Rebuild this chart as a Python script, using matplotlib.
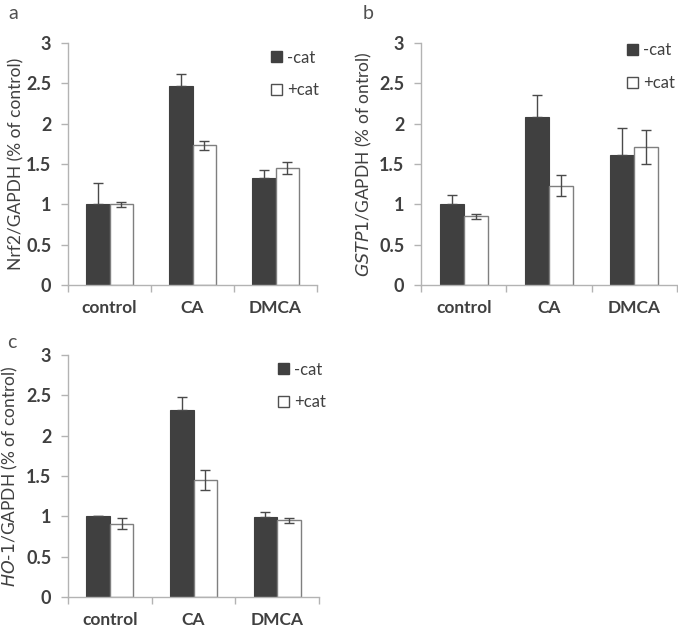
import numpy as np
import matplotlib
matplotlib.use("Agg")
import matplotlib.pyplot as plt
from matplotlib.patches import Patch

plt.rcParams["font.family"] = ["Lato", "DejaVu Sans"]

groups = ["control", "CA", "DMCA"]

# panel a: Nrf2
nrf2_minus = [1.00, 2.47, 1.32]
nrf2_minus_err = [0.27, 0.15, 0.11]
nrf2_plus = [1.00, 1.73, 1.45]
nrf2_plus_err = [0.03, 0.06, 0.07]

# panel b: GSTP1
gstp1_minus = [1.00, 2.08, 1.61]
gstp1_minus_err = [0.12, 0.27, 0.34]
gstp1_plus = [0.85, 1.23, 1.71]
gstp1_plus_err = [0.035, 0.13, 0.21]

# panel c: HO-1
ho1_minus = [1.00, 2.32, 0.99]
ho1_minus_err = [0.01, 0.16, 0.06]
ho1_plus = [0.91, 1.45, 0.95]
ho1_plus_err = [0.07, 0.12, 0.03]

yticks = [0, 0.5, 1, 1.5, 2, 2.5, 3]
ytick_labels = ["0", "0.5", "1", "1.5", "2", "2.5", "3"]

DARK = "#404040"
AX = "#b3b3b3"
TXT = "#404040"

fig = plt.figure(figsize=(6.78, 6.27), dpi=100)


def panel(rect, minus, minus_err, plus, plus_err, ylabel, letter, letter_xy, ylab_x, leg_xy):
    ax = fig.add_axes(rect)
    x = np.arange(len(groups))
    w = 0.28
    ax.bar(x - w / 2, minus, w, color=DARK, edgecolor=DARK, linewidth=0.8, zorder=2)
    ax.bar(x + w / 2, plus, w, color="white", edgecolor="#7f7f7f", linewidth=1.0, zorder=2)
    # lower half of the dark-bar error bars is hidden behind the bar in the original
    ax.errorbar(x - w / 2, minus, yerr=[np.zeros(len(minus)), minus_err], fmt="none",
                ecolor="#4a4a4a", elinewidth=1.0, capsize=3.5, capthick=1.0, zorder=3)
    ax.errorbar(x + w / 2, plus, yerr=plus_err, fmt="none", ecolor="#4a4a4a",
                elinewidth=1.0, capsize=3.5, capthick=1.0, zorder=3)
    ax.set_xlim(-0.5, 2.5)
    ax.set_ylim(0, 3)
    ax.set_yticks(yticks)
    ax.set_yticklabels(ytick_labels, fontsize=13, fontweight="bold", color=TXT)
    ax.set_xticks([-0.5, 0.5, 1.5, 2.5])
    ax.set_xticklabels([])
    ax.set_xticks(x, minor=True)
    ax.set_xticklabels(groups, minor=True, fontsize=12.5, fontweight="bold", color=TXT)
    ax.tick_params(axis="x", which="major", length=5, color=AX, width=1)
    ax.tick_params(axis="x", which="minor", length=0, pad=11)
    ax.tick_params(axis="y", length=5, color=AX, width=1, pad=7)
    for s in ["top", "right"]:
        ax.spines[s].set_visible(False)
    for s in ["left", "bottom"]:
        ax.spines[s].set_color(AX)
        ax.spines[s].set_linewidth(1)
    fig.text(ylab_x, rect[1] + rect[3] / 2, ylabel, rotation=90, ha="center",
             va="center", fontsize=12.5, color=TXT)
    fig.text(letter_xy[0], letter_xy[1], letter, fontsize=14, color="#505050",
             ha="left", va="center")
    handles = [Patch(facecolor=DARK, edgecolor=DARK, label="-cat"),
               Patch(facecolor="white", edgecolor="#505050", label="+cat")]
    ax.legend(handles=handles, loc="upper left", bbox_to_anchor=leg_xy, frameon=False,
              handlelength=0.65, handleheight=0.65, handletextpad=0.3,
              labelspacing=1.0, fontsize=12, labelcolor=TXT, borderaxespad=0)
    return ax


panel([0.1003, 0.5455, 0.3673, 0.3860], nrf2_minus, nrf2_minus_err, nrf2_plus, nrf2_plus_err,
      "Nrf2/GAPDH (% of control)", "a", (0.013, 0.978), 0.024, (0.79, 1.0))
panel([0.6209, 0.5455, 0.3776, 0.3860], gstp1_minus, gstp1_minus_err, gstp1_plus, gstp1_plus_err,
      r"$\it{GSTP1}$/GAPDH (% of ontrol)", "b", (0.535, 0.978), 0.537, (0.78, 1.03))
panel([0.1003, 0.0478, 0.3702, 0.3860], ho1_minus, ho1_minus_err, ho1_plus, ho1_plus_err,
      r"$\it{HO}$-$\it{1}$/GAPDH (% of control)", "c", (0.011, 0.453), 0.014, (0.81, 1.0))

fig.savefig("out.png", dpi=100)
